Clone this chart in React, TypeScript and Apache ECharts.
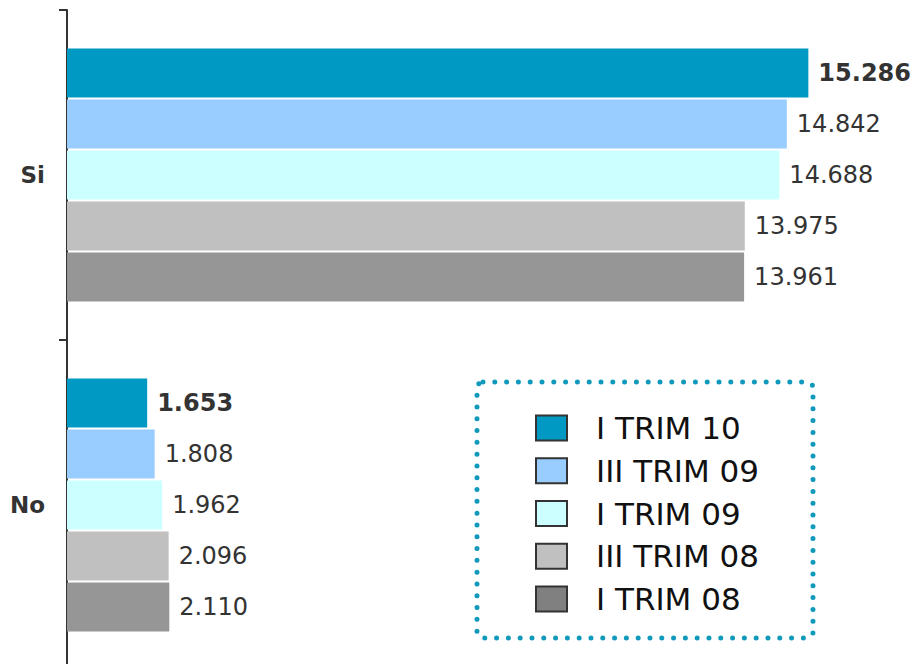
import React, { useEffect, useRef } from "react";
import * as echarts from "echarts";

const categories = ["Si", "No"];
const seriesNames = ["I TRIM 10", "III TRIM 09", "I TRIM 09", "III TRIM 08", "I TRIM 08"];
const iTrim10 = [15286, 1653];
const iiiTrim09 = [14842, 1808];
const iTrim09 = [14688, 1962];
const iiiTrim08 = [13975, 2096];
const iTrim08 = [13961, 2110];
const seriesValues = [iTrim10, iiiTrim09, iTrim09, iiiTrim08, iTrim08];
const barColors = ["#0099C4", "#99CCFF", "#CCFFFF", "#C0C0C0", "#969696"];
const legendColors = ["#0099C4", "#99CCFF", "#CCFFFF", "#C0C0C0", "#808080"];

const fmt = (v: number) => {
  const s = String(Math.round(v));
  return s.replace(/\B(?=(\d{3})+(?!\d))/g, ".");
};

export default function App() {
  const ref = useRef<HTMLDivElement>(null);
  useEffect(() => {
    if (!ref.current) return;
    const chart = echarts.init(ref.current, undefined, { renderer: "svg" });
    const font = "'DejaVu Sans', Verdana, sans-serif";
    chart.setOption({
      animation: false,
      backgroundColor: "#ffffff",
      grid: {
        left: 67,
        top: 10,
        width: 824.5,
        height: 660,
        containLabel: false,
        outerBoundsMode: "none",
      },
      xAxis: { type: "value", min: 0, max: 17000, show: false },
      yAxis: {
        type: "category",
        data: categories,
        inverse: true,
        axisLine: { show: true, lineStyle: { color: "#333333", width: 2 } },
        axisTick: { show: true, length: 8, lineStyle: { color: "#333333", width: 2 } },
        axisLabel: {
          margin: 22,
          color: "#333333",
          fontFamily: font,
          fontWeight: "bold",
          fontSize: 23,
        },
        splitLine: { show: false },
      },
      legend: {
        orient: "vertical",
        left: 535,
        top: 412.5,
        padding: 0,
        itemWidth: 31,
        itemHeight: 25,
        itemGap: 11.75,
        icon: "rect",
        data: seriesNames.map((n, i) => ({
          name: n,
          itemStyle: { color: legendColors[i], borderColor: "#333333", borderWidth: 2 },
        })),
        textStyle: {
          fontFamily: font,
          fontSize: 31,
          lineHeight: 30,
          color: "#111111",
          padding: [0, 0, 0, 24],
        },
        selectedMode: false,
      },
      graphic: [
        {
          type: "rect",
          shape: { x: 477, y: 382, width: 336, height: 256, r: 6 },
          style: {
            fill: "none",
            stroke: "#1199BB",
            lineWidth: 5,
            lineDash: [0, 11.8],
            lineCap: "round",
          },
          silent: true,
        },
      ],
      series: seriesNames.map((n, i) => ({
        name: n,
        type: "bar",
        data: seriesValues[i],
        barGap: "4%",
        barCategoryGap: "23.4%",
        itemStyle: { color: barColors[i] },
        label: {
          show: true,
          position: "right",
          distance: 10,
          formatter: (p: any) => fmt(p.value),
          fontFamily: font,
          fontSize: 24,
          fontWeight: i === 0 ? "bold" : "normal",
          color: "#333333",
        },
      })),
    });
    return () => chart.dispose();
  }, []);
  return (
    <div
      ref={ref}
      style={{ position: "fixed", left: 0, top: 0, width: 917, height: 664 }}
    />
  );
}
